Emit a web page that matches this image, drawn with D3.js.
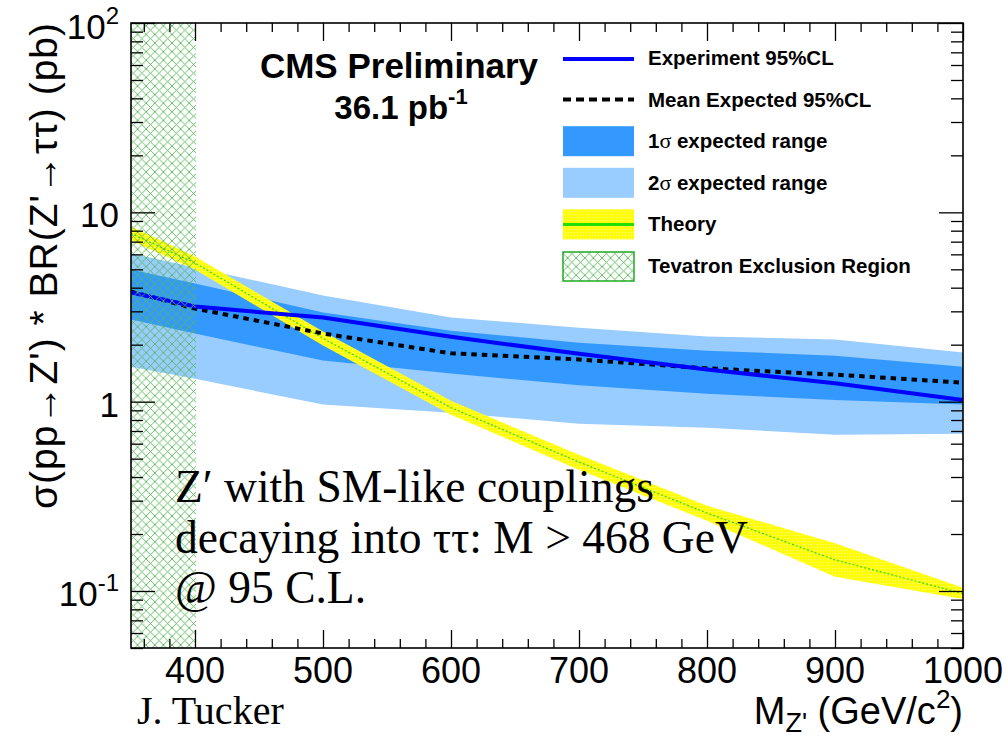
<!DOCTYPE html>
<html><head><meta charset="utf-8">
<script src="https://cdn.jsdelivr.net/npm/d3@7"></script>
<style>body{margin:0;background:#fff}</style>
</head><body><svg id="c" width="1007" height="737"></svg>
<script>
// ---- data ----
const masses    = [350, 400, 500, 600, 700, 800, 900, 1000];
const observed  = [3.77, 3.18, 2.78, 2.20, 1.79, 1.48, 1.25, 1.02];
const expected  = [3.82, 3.10, 2.29, 1.80, 1.67, 1.50, 1.39, 1.26];
const band1Up   = [4.99, 4.21, 2.96, 2.37, 2.05, 1.86, 1.75, 1.53];
const band1Dn   = [2.72, 2.29, 1.65, 1.41, 1.22, 1.10, 1.02, 0.965];
const band2Up   = [6.07, 5.12, 3.64, 2.78, 2.46, 2.21, 2.13, 1.82];
const band2Dn   = [1.53, 1.32, 0.965, 0.875, 0.765, 0.728, 0.669, 0.677];
const theory    = [7.74, 5.40, 2.16, 0.93, 0.48, 0.258, 0.146, 0.097];
const theoryUp  = [8.43, 5.85, 2.35, 1.01, 0.524, 0.282, 0.179, 0.104];
const theoryDn  = [7.11, 4.99, 1.98, 0.853, 0.437, 0.235, 0.119, 0.0907];
const tevatron  = [350, 400];
const xTicks    = [400, 500, 600, 700, 800, 900, 1000];
const yTicks    = [0.1, 1, 10, 100];
const yTickLabels = [["10", "-1"], ["1", ""], ["10", ""], ["10", "2"]];
const legendLabels = ["Experiment 95%CL", "Mean Expected 95%CL", "1|σ| expected range", "2|σ| expected range", "Theory", "Tevatron Exclusion Region"];
const noteLines = ["Z\u2032 with SM-like couplings", "decaying into \u03c4\u03c4: M > 468 GeV", "@ 95 C.L."];

// ---- setup ----
const svg = d3.select("#c");
const L = 131, R = 963, T = 23, B = 648;
const x = d3.scaleLinear().domain([350, 1000]).range([L, R]);
const y = d3.scaleLog().domain([0.05, 100]).range([B, T]);
const sans = "'Liberation Sans', Arial, sans-serif";
const serif = "'Liberation Serif', 'Times New Roman', serif";

const defs = svg.append("defs");
defs.append("clipPath").attr("id", "clip").append("rect")
  .attr("x", L).attr("y", T).attr("width", R - L).attr("height", B - T);
const hp = defs.append("pattern").attr("id", "hatch").attr("patternUnits", "userSpaceOnUse")
  .attr("width", 8.6).attr("height", 8.6);
hp.append("path").attr("d", "M0,0L8.6,8.6M8.6,0L0,8.6").attr("stroke", "#55b855").attr("stroke-width", 0.9);
const yp = defs.append("pattern").attr("id", "dots").attr("patternUnits", "userSpaceOnUse")
  .attr("width", 3).attr("height", 3);
yp.append("rect").attr("width", 3).attr("height", 3).attr("fill", "#ffff00");
yp.append("rect").attr("x", 1).attr("y", 1).attr("width", 1).attr("height", 1).attr("fill", "#fffab0");

const idx = d3.range(masses.length);
const g = svg.append("g").attr("clip-path", "url(#clip)");
const area = (up, dn) => d3.area().x(i => x(masses[i])).y0(i => y(dn[i])).y1(i => y(up[i]))(idx);
const line = (v) => d3.line().x(i => x(masses[i])).y(i => y(v[i]))(idx);

g.append("path").attr("d", area(band2Up, band2Dn)).attr("fill", "#99ccff");
g.append("path").attr("d", area(band1Up, band1Dn)).attr("fill", "#3399ff");
g.append("path").attr("d", area(theoryUp, theoryDn)).attr("fill", "url(#dots)");
g.append("path").attr("d", line(theory)).attr("fill", "none").attr("stroke", "#22dd00")
  .attr("stroke-width", 1.2).attr("stroke-dasharray", "2,2");
g.append("path").attr("d", line(expected)).attr("fill", "none").attr("stroke", "#000")
  .attr("stroke-width", 4).attr("stroke-dasharray", "5.5,5");
g.append("path").attr("d", line(observed)).attr("fill", "none").attr("stroke", "#0000ff")
  .attr("stroke-width", 4);
g.append("rect").attr("x", x(tevatron[0])).attr("y", T)
  .attr("width", x(tevatron[1]) - x(tevatron[0]) + 1).attr("height", B - T).attr("fill", "url(#hatch)");

// ---- axes ----
const xMinor = d3.range(360, 1000, 20).filter(v => v % 100 !== 0);
const yMinor = [];
[0.01, 0.1, 1, 10].forEach(d => { for (let k = 2; k <= 9; k++) { const v = k * d; if (v >= 0.05 && v <= 100) yMinor.push(v); } });

function styleAxis(sel) { sel.select(".domain").remove(); sel.selectAll("text").remove(); sel.selectAll("line").attr("stroke", "#000").attr("stroke-width", 1.3); }
svg.append("g").attr("transform", `translate(0,${B})`).call(d3.axisBottom(x).tickValues(xTicks).tickSizeInner(-18).tickSizeOuter(0)).call(styleAxis);
svg.append("g").attr("transform", `translate(0,${B})`).call(d3.axisBottom(x).tickValues(xMinor).tickSizeInner(-9).tickSizeOuter(0)).call(styleAxis);
svg.append("g").attr("transform", `translate(0,${T})`).call(d3.axisTop(x).tickValues(xTicks).tickSizeInner(-18).tickSizeOuter(0)).call(styleAxis);
svg.append("g").attr("transform", `translate(0,${T})`).call(d3.axisTop(x).tickValues(xMinor).tickSizeInner(-9).tickSizeOuter(0)).call(styleAxis);
svg.append("g").attr("transform", `translate(${L},0)`).call(d3.axisLeft(y).tickValues(yTicks).tickSizeInner(-24).tickSizeOuter(0)).call(styleAxis);
svg.append("g").attr("transform", `translate(${L},0)`).call(d3.axisLeft(y).tickValues(yMinor).tickSizeInner(-12).tickSizeOuter(0)).call(styleAxis);
svg.append("g").attr("transform", `translate(${R},0)`).call(d3.axisRight(y).tickValues(yTicks).tickSizeInner(-24).tickSizeOuter(0)).call(styleAxis);
svg.append("g").attr("transform", `translate(${R},0)`).call(d3.axisRight(y).tickValues(yMinor).tickSizeInner(-12).tickSizeOuter(0)).call(styleAxis);

svg.append("rect").attr("x", L).attr("y", T).attr("width", R - L).attr("height", B - T)
  .attr("fill", "none").attr("stroke", "#000").attr("stroke-width", 1.6);

// tick labels
xTicks.forEach(v => {
  svg.append("text").attr("x", x(v)).attr("y", 683).attr("text-anchor", "middle")
    .attr("font-family", sans).attr("font-size", 36).text(v);
});
yTicks.forEach((v, i) => {
  const t = svg.append("text").attr("x", 119).attr("y", Math.max(y(v) + 15, 39)).attr("text-anchor", "end")
    .attr("font-family", sans).attr("font-size", 35);
  t.append("tspan").text(yTickLabels[i][0]);
  if (yTickLabels[i][1]) t.append("tspan").attr("font-size", 24).attr("dy", -15).text(yTickLabels[i][1]);
});

// axis titles
svg.append("text").attr("transform", "translate(57,22) rotate(-90)").attr("text-anchor", "end")
  .attr("font-family", sans).attr("font-size", 39).attr("letter-spacing", 1)
  .text("\u03c3(pp\u2192Z') * BR(Z'\u2192\u03c4\u03c4) (pb)");
const xt = svg.append("text").attr("x", 963).attr("y", 724).attr("text-anchor", "end")
  .attr("font-family", sans).attr("font-size", 38);
xt.append("tspan").text("M");
xt.append("tspan").attr("font-size", 27).attr("dy", 8).text("Z'");
xt.append("tspan").attr("dy", -8).text(" (GeV/c");
xt.append("tspan").attr("font-size", 26).attr("dy", -16).text("2");
xt.append("tspan").attr("dy", 16).text(")");

// CMS label
svg.append("text").attr("x", 399).attr("y", 78).attr("text-anchor", "middle")
  .attr("font-family", sans).attr("font-weight", "bold").attr("font-size", 35).text("CMS Preliminary");
const lum = svg.append("text").attr("x", 401).attr("y", 119).attr("text-anchor", "middle")
  .attr("font-family", sans).attr("font-weight", "bold").attr("font-size", 33);
lum.append("tspan").text("36.1 pb");
lum.append("tspan").attr("font-size", 22).attr("dy", -15).text("-1");

// legend
const lx = 563, lw = 71, ly0 = 58, ldy = 41.6;
legendLabels.forEach((lab, i) => {
  const cy = ly0 + i * ldy;
  if (i === 0) svg.append("line").attr("x1", lx).attr("x2", lx + lw).attr("y1", cy + 1).attr("y2", cy + 1).attr("stroke", "#0000ff").attr("stroke-width", 4);
  if (i === 1) svg.append("line").attr("x1", lx).attr("x2", lx + lw).attr("y1", cy).attr("y2", cy).attr("stroke", "#000").attr("stroke-width", 4).attr("stroke-dasharray", "8,5");
  if (i === 2) svg.append("rect").attr("x", lx).attr("y", cy - 15).attr("width", lw).attr("height", 30).attr("fill", "#3399ff");
  if (i === 3) svg.append("rect").attr("x", lx).attr("y", cy - 15).attr("width", lw).attr("height", 30).attr("fill", "#99ccff");
  if (i === 4) {
    svg.append("rect").attr("x", lx).attr("y", cy - 15).attr("width", lw).attr("height", 30).attr("fill", "url(#dots)");
    svg.append("line").attr("x1", lx).attr("x2", lx + lw).attr("y1", cy).attr("y2", cy).attr("stroke", "#22dd00").attr("stroke-width", 3);
  }
  if (i === 5) svg.append("rect").attr("x", lx).attr("y", cy - 14).attr("width", lw).attr("height", 29).attr("fill", "url(#hatch)").attr("stroke", "#22aa22").attr("stroke-width", 1.5);
  const t = svg.append("text").attr("x", 648).attr("y", cy + 7).attr("font-family", sans)
    .attr("font-weight", "bold").attr("font-size", 20.5);
  lab.split("|").forEach((p, k) => {
    const s = t.append("tspan").text(p);
    if (k === 1) s.attr("font-family", serif).attr("font-weight", "normal").attr("font-size", 22);
  });
});

// annotation
noteLines.forEach((s, i) => {
  svg.append("text").attr("x", 175).attr("y", 502 + i * 50.5).attr("font-family", serif)
    .attr("font-size", 45.5).text(s);
});
svg.append("text").attr("x", 137).attr("y", 724).attr("font-family", serif).attr("font-size", 40).text("J. Tucker");
</script></body></html>
